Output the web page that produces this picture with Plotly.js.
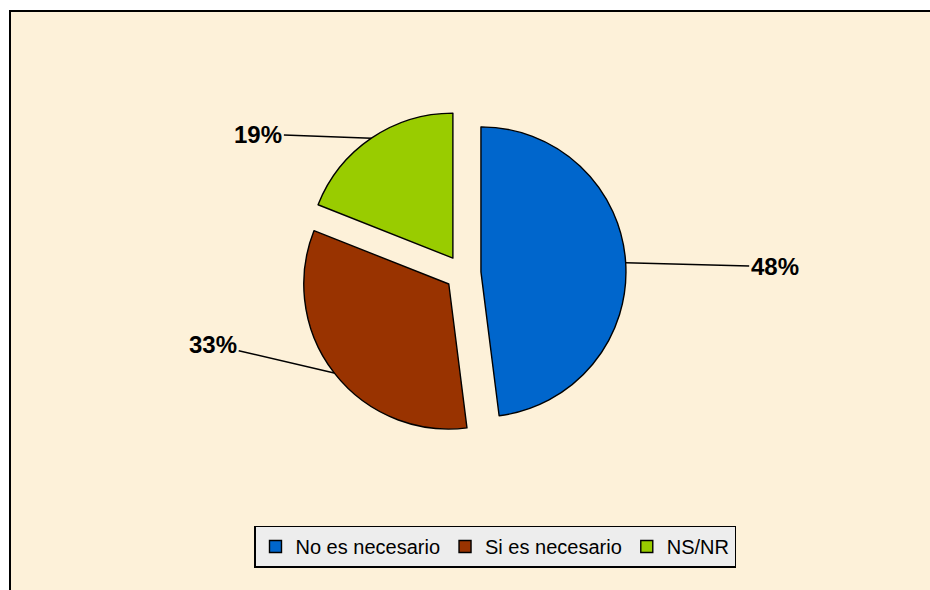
<!DOCTYPE html>
<html><head><meta charset="utf-8">
<script src="https://cdn.plot.ly/plotly-3.0.1.min.js"></script>
<style>body{margin:0;background:#fff}</style></head><body>
<div id="chart" style="width:930px;height:590px"></div>
<script>
const categories = ['No es necesario', 'Si es necesario', 'NS/NR'];
const values = [48, 33, 19];
const labelTexts = ['48%', '33%', '19%'];
const colors = ['#0066CC', '#993300', '#99CC00'];

const W = 930, H = 590;
const cx = 463, cy = 273, half = 163;
const pull = 0.124;
const dom = {x: [(cx - half) / W, (cx + half) / W], y: [(H - cy - half) / H, (H - cy + half) / H]};
const r = half / (1 + pull);
const total = values.reduce((a, b) => a + b, 0);
const labelOffsets = [[149, 4], [-121, -28], [-113, -4]];
let cum = 0;
const annotations = values.map((v, i) => {
  const mid = (cum + v / 2) / total * 2 * Math.PI; cum += v;
  const dx = Math.sin(mid), dy = -Math.cos(mid);
  const px = cx + dx * r * (1 + pull), py = cy + dy * r * (1 + pull);
  return {x: px / W, y: 1 - py / H, xref: 'paper', yref: 'paper', text: '<b>' + labelTexts[i] + '</b>',
    showarrow: true, arrowhead: 0, arrowwidth: 1.5, arrowcolor: '#000', standoff: 0,
    ax: labelOffsets[i][0], ay: labelOffsets[i][1],
    font: {family: 'Liberation Sans, Arial, sans-serif', size: 24, color: '#000'}};
});

const trace = {
  type: 'pie', labels: categories, values: values, sort: false, direction: 'clockwise', rotation: 0,
  pull: pull, textinfo: 'none', hoverinfo: 'skip',
  marker: {colors: colors, line: {color: '#000', width: 1.4}},
  domain: dom
};

const layout = {
  width: W, height: H, margin: {l: 0, r: 0, t: 0, b: 0},
  paper_bgcolor: '#fff', showlegend: true,
  font: {family: 'Liberation Sans, Arial, sans-serif', color: '#000'},
  shapes: [{type: 'rect', xref: 'paper', yref: 'paper', layer: 'below',
    x0: 10 / W, x1: 1.02, y0: -0.02, y1: 1 - 11 / H,
    fillcolor: '#FDF1D9', line: {color: '#000', width: 2}}],
  legend: {orientation: 'h', x: 495 / W, xanchor: 'center', y: (H - 546.5) / H, yanchor: 'middle',
    bgcolor: '#EDEDED', bordercolor: '#000', borderwidth: 1.5,
    font: {size: 20, color: '#000'}, itemwidth: 30, traceorder: 'normal'},
  annotations: annotations
};
Plotly.newPlot('chart', [trace], layout, {displayModeBar: false, staticPlot: true});
</script></body></html>
